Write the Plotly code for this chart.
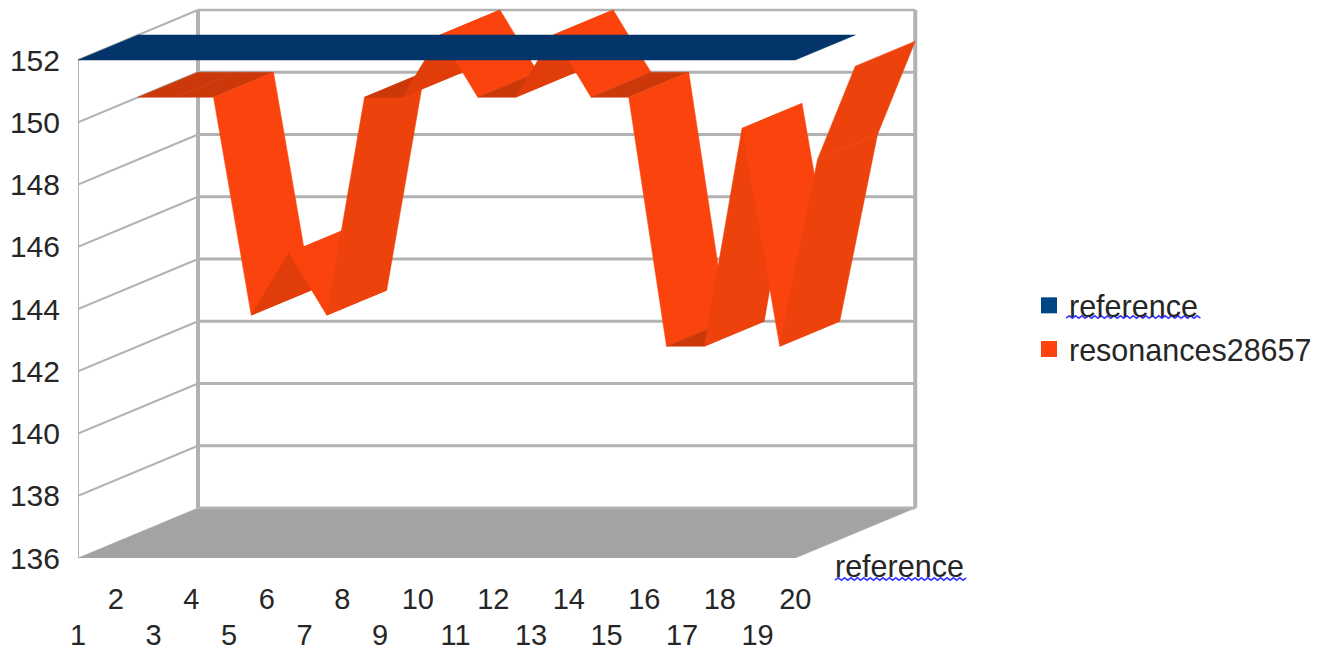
import plotly.graph_objects as go

# Chart data
categories = list(range(1, 21))
reference = [152] * 20
resonances = [150, 150, 150, 143, 145, 143, 150, 150, 152, 150,
              150, 152, 150, 150, 142, 142, 149, 142, 148, 151]
value_ticks = [136, 138, 140, 142, 144, 146, 148, 150, 152]
series_names = ["reference", "resonances28657"]

# Page and oblique-projection geometry, in pixels
WIDTH, HEIGHT = 1323, 651
LEFT, BOTTOM = 78, 93
PX_PER_CAT, PX_PER_VAL = 37.75, 31.125
DEPTH_PX_X, DEPTH_PX_Y = 120, 50

NAVY = "#03356b"
ORANGE = "#fb430d"
ORANGE_STEEP = "#ed420c"
ORANGE_GENTLE = "#e03d0b"
ORANGE_FLAT = "#cb390a"
LEGEND_COLORS = ["#004586", "#ff420e"]
GRID = "#b2b2b2"
FLOOR = "#a3a3a3"
TEXT = "#262626"
SQUIGGLE = "#3a3aff"
FONT = "Liberation Sans"

plot_w = WIDTH - LEFT
plot_h = HEIGHT - BOTTOM
x_range = [1, 1 + plot_w / PX_PER_CAT]
y_range = [136, 136 + plot_h / PX_PER_VAL]


def project(cat, val, depth):
    """Oblique projection of (category, value, depth 0..1) on to the 2D axes."""
    return (cat + depth * DEPTH_PX_X / PX_PER_CAT,
            val + depth * DEPTH_PX_Y / PX_PER_VAL)


def polygon(corners, color):
    pts = [project(*c) for c in corners]
    pts.append(pts[0])
    return go.Scatter(x=[p[0] for p in pts], y=[p[1] for p in pts], mode="lines",
                      fill="toself", fillcolor=color, line=dict(width=0.5, color=color),
                      hoverinfo="skip", showlegend=False, cliponaxis=False)


def wall_line(a, b, width):
    pa, pb = project(*a), project(*b)
    return go.Scatter(x=[pa[0], pb[0]], y=[pa[1], pb[1]], mode="lines",
                      line=dict(width=width, color=GRID),
                      hoverinfo="skip", showlegend=False, cliponaxis=False)


def ribbon_color(v0, v1):
    rise = v1 - v0
    if rise == 0:
        return ORANGE_FLAT
    if rise < 0:
        return ORANGE
    return ORANGE_STEEP if rise >= 3 else ORANGE_GENTLE


first, last = categories[0], categories[-1]
low, high = value_ticks[0], value_ticks[-1]

fig = go.Figure()

# Floor, back wall and side wall
fig.add_trace(polygon([(first, low, 0), (last, low, 0), (last, low, 1), (first, low, 1)], FLOOR))
for v in value_ticks:
    fig.add_trace(wall_line((first, v, 1), (last, v, 1), 2.5 if v == high else 3.2))
    if v > low:
        fig.add_trace(wall_line((first, v, 0), (first, v, 1), 2))
fig.add_trace(wall_line((first, low, 0), (first, high, 0), 2))
fig.add_trace(wall_line((first, low, 1), (first, high, 1), 4))
fig.add_trace(wall_line((last, low, 1), (last, high, 1), 4))

# Back ribbon, painted left to right so later segments sit on top
for i in range(len(categories) - 1):
    c0, c1 = categories[i], categories[i + 1]
    v0, v1 = resonances[i], resonances[i + 1]
    fig.add_trace(polygon([(c0, v0, 0.5), (c1, v1, 0.5), (c1, v1, 1), (c0, v0, 1)],
                          ribbon_color(v0, v1)))

# Front ribbon, a single outline since every segment shares one shade
front_edge = [(c, v, 0) for c, v in zip(categories, reference)]
rear_edge = [(c, v, 0.5) for c, v in zip(categories, reference)]
fig.add_trace(polygon(front_edge + rear_edge[::-1], NAVY))

# Legend entries
for name, color in zip(series_names, LEGEND_COLORS):
    fig.add_trace(go.Scatter(x=[None], y=[None], mode="markers", name=name,
                             legendgroup=name, xaxis="x2",
                             marker=dict(symbol="square", size=18, color=color)))


def paper_x(px):
    return (px - LEFT) / plot_w


def paper_y(px):
    return 1 - px / plot_h


def squiggle(x0, x1, y):
    """Wavy spell-check underline between two page x positions."""
    step, x, up = 3.2, x0, True
    parts = [f"M{paper_x(x):.5f},{paper_y(y + 1.2):.5f}"]
    while x < x1:
        x += step
        up = not up
        parts.append(f"L{paper_x(x):.5f},{paper_y(y + (1.2 if up else -1.2)):.5f}")
    return dict(type="path", path=" ".join(parts), xref="paper", yref="paper",
                line=dict(color=SQUIGGLE, width=1.6))


even = [c for c in categories if c % 2 == 0]
odd = [c for c in categories if c % 2 == 1]
tick_font = dict(family=FONT, size=29, color=TEXT)
value_font = dict(family=FONT, size=30, color=TEXT)

fig.update_layout(
    width=WIDTH, height=HEIGHT,
    margin=dict(l=LEFT, r=0, t=0, b=BOTTOM, autoexpand=False),
    paper_bgcolor="white", plot_bgcolor="white",
    hovermode=False,
    xaxis=dict(range=x_range, tickmode="array", tickvals=even, ticktext=[str(c) for c in even],
               showgrid=False, zeroline=False, showline=False, ticks="",
               tickfont=tick_font, ticklabelstandoff=21, tickangle=0),
    xaxis2=dict(range=x_range, overlaying="x", side="bottom", anchor="y", tickmode="array",
                tickvals=odd, ticktext=[str(c) for c in odd],
                showgrid=False, zeroline=False, showline=False, ticks="",
                tickfont=tick_font, ticklabelstandoff=57, tickangle=0),
    yaxis=dict(range=y_range, tickmode="array", tickvals=value_ticks,
               showgrid=False, zeroline=False, showline=False, ticks="",
               tickfont=value_font, ticklabelstandoff=17),
    legend=dict(x=paper_x(1029), y=paper_y(279), xanchor="left", yanchor="top",
                bgcolor="rgba(0,0,0,0)", font=dict(family=FONT, size=30.5, color=TEXT),
                tracegroupgap=1, itemclick=False, itemdoubleclick=False),
    annotations=[dict(text="reference", xref="paper", yref="paper",
                      x=paper_x(900), y=paper_y(566), yanchor="middle", showarrow=False,
                      font=dict(family=FONT, size=30.5, color=TEXT))],
    shapes=[squiggle(1066, 1198, 317), squiggle(835, 964, 579)],
)

fig.write_html("out.html")
